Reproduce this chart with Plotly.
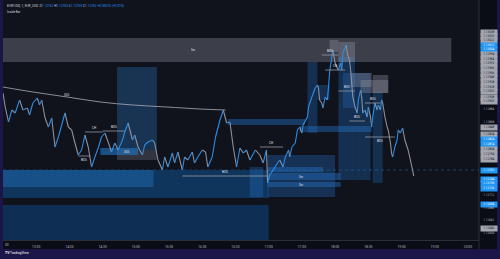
import pandas as pd
import plotly.graph_objects as go

BASE = pd.Timestamp("2024-03-14 13:00")

# ---- price path (minutes after 13:00, close price) ----
path_min = [0,2,5,8,11,15,18,22,24,27,31,33,35,38,41,44,47,50,53,56,
            59,62,65,68,71,74,77,80,83,86,89,92,95,98,101,104,108,110,113,117,
            119,122,126,128,131,135,137,140,144,146,149,153,155,158,162,164,167,171,173,176,
            180,183,185,189,192,196,199,202,205,208,211,214,217,220,223,228,232,235,238,239,
            241,244,248,250,253,255,258,259,261,264,266,268,270,271,275,276,279,282,284,285,
            286,288,289,291,293,294,295,297,298,300,302,303,305,306,307,310,311,313,314,315,
            316,318,320,321,323,324,325,327,329,330,332,333,334,336,338,339,341,342,343,345,
            347,348,350,351,352,354,356,357,359,361,363,366,368,370,371]
path_px = [1.12916,1.12888,1.12858,1.12882,1.12876,1.12902,1.12882,1.12886,1.12872,1.12896,
           1.12906,1.12892,1.12902,1.12866,1.12848,1.12866,1.12808,1.12828,1.12852,1.12876,
           1.12848,1.12842,1.12816,1.12792,1.12802,1.12832,1.12808,1.12768,1.12788,1.12806,
           1.12828,1.12836,1.12818,1.12798,1.12816,1.12802,1.12822,1.12838,1.12856,1.12822,
           1.12832,1.12808,1.12792,1.12812,1.12818,1.12822,1.12816,1.12782,1.12762,1.12788,
           1.12768,1.12796,1.12776,1.12798,1.12762,1.12788,1.12782,1.12798,1.12776,1.12788,
           1.12802,1.12798,1.12768,1.12788,1.12828,1.12862,1.12882,1.12856,1.12858,1.12808,
           1.12768,1.12806,1.12796,1.12802,1.12782,1.12802,1.12792,1.12776,1.12802,1.12736,
           1.12752,1.12762,1.12776,1.12782,1.12768,1.12788,1.12802,1.12788,1.12808,1.12816,
           1.12842,1.12848,1.12836,1.12852,1.12868,1.12888,1.12908,1.12926,1.12932,1.12926,
           1.12902,1.12896,1.12886,1.12908,1.12902,1.12926,1.12956,1.12988,1.13002,1.12976,
           1.12966,1.12962,1.12976,1.12962,1.12996,1.13012,1.12996,1.12982,1.12962,1.12936,
           1.12908,1.12888,1.12876,1.12902,1.12922,1.12908,1.12876,1.12882,1.12868,1.12888,
           1.12868,1.12848,1.12868,1.12896,1.12882,1.12892,1.12882,1.12902,1.12896,1.12868,
           1.12848,1.12842,1.12816,1.12796,1.12788,1.12808,1.12822,1.12842,1.12836,1.12846,
           1.12822,1.12802,1.12782,1.12762,1.12750]

# ---- liquidity arc ----
arc_min = [0, 27, 58, 88, 117, 148, 178, 201]
arc_px = [1.12928, 1.12918, 1.12908, 1.12898, 1.12892, 1.12888, 1.12884, 1.12882]

# ---- zones: start min, end min, top, bottom, kind ----
zone_t0 = [0, 103, 0, 0, 0, 103, 88, 203, 268, 275, 284, 303, 307, 318, 334,
           303, 295, 314, 323, 334, 239, 223, 239, 239, 239]
zone_t1 = [405, 139, 240, 136, 240, 139, 122, 273, 333, 284, 295, 318, 318, 332, 343,
           318, 303, 333, 348, 348, 300, 235, 289, 305, 305]
zone_top = [1.13026, 1.12968, 1.12762, 1.12762, 1.12692, 1.12802, 1.12806, 1.12864, 1.12850,
            1.12978, 1.12932, 1.12988, 1.12956, 1.12956, 1.12918,
            1.13018, 1.13022, 1.12956, 1.12942, 1.12952, 1.12792, 1.12768, 1.12768, 1.12756, 1.12738]
zone_bot = [1.12978, 1.12786, 1.12706, 1.12728, 1.12590, 1.12782, 1.12792, 1.12852, 1.12838,
            1.12836, 1.12902, 1.12742, 1.12886, 1.12742, 1.12736,
            1.12978, 1.12998, 1.12928, 1.12916, 1.12916, 1.12708, 1.12708, 1.12758, 1.12742, 1.12728]
zone_kind = ["sw", "lb", "d2", "d1", "d3", "dg", "bl", "hb", "hb", "cb", "cb", "cb", "cb", "cb", "cb",
             "gb", "gb", "gb", "gb", "gb", "mb", "mb", "hb", "hb", "hb"]

# ---- structure lines ----
st_t0 = [74, 90, 68, 162, 232, 288, 291, 303, 313, 327, 327]
st_t1 = [90, 110, 79, 239, 253, 303, 309, 318, 327, 341, 354]
st_px = [1.12838, 1.12840, 1.12790, 1.12750, 1.12808, 1.12992, 1.12962, 1.12920, 1.12860, 1.12896, 1.12828]
st_txt = ["CH", "BOS", "BOS", "BOS", "CH", "BOS", "CH", "BOS", "BOS", "BOS", "BOS"]
st_above = [True, True, False, True, True, True, True, True, True, True, False]

# ---- other labels ----
lbl_min = [172, 58, 112, 270, 270]
lbl_px = [1.13002, 1.12912, 1.12799, 1.12749, 1.12733]
lbl_txt = ["Sw", "SSS", "SSS", "Sw", "Sw"]

# ---- price scale labels ----
scale_px = [1.13038, 1.13030, 1.13022, 1.13012, 1.13004, 1.12994, 1.12984, 1.12976, 1.12966,
            1.12956, 1.12948, 1.12938, 1.12928, 1.12920, 1.12908, 1.12900, 1.12884, 1.12858,
            1.12848, 1.12834, 1.12824, 1.12814, 1.12804, 1.12794, 1.12784, 1.12762, 1.12744,
            1.12736, 1.12726, 1.12712, 1.12694, 1.12686, 1.12662, 1.12646, 1.12636]
scale_kind = ["g", "g", "g", "b", "b", "g", "g", "g", "g", "g", "g", "g", "g", "g", "g", "g", "t", "t",
              "g", "g", "b", "b", "g", "g", "g", "b", "b", "b", "b", "t", "b", "t", "t", "g", "t"]

time_ticks = list(range(30, 421, 30))
time_text = ["13:30", "14:00", "14:30", "15:00", "15:30", "16:00", "16:30", "17:00",
             "17:30", "18:00", "18:30", "19:00", "19:30", "20:00"]

current_px = 1.12762
y_range = [1.12622, 1.13102]
x_range_min = [0, 430]


def T(m):
    return BASE + pd.Timedelta(minutes=m)


FONT = "Roboto"
ZCOL = {
    "sw": "#3c3e4a", "lb": "rgba(38,98,160,0.42)", "d1": "#175087", "d2": "#0f355c",
    "d3": "#0e2f53", "dg": "rgba(52,54,64,0.95)", "bl": "rgba(33,120,200,0.6)",
    "hb": "rgba(33,110,190,0.45)", "cb": "rgba(33,110,190,0.32)",
    "gb": "rgba(150,152,165,0.35)", "mb": "rgba(33,110,190,0.35)",
}

fig = go.Figure()

shapes = []
# chart frame backgrounds (paper coords)
shapes.append(dict(type="rect", xref="paper", yref="paper", x0=0, x1=1.0378, y0=-0.0375, y1=1,
                   fillcolor="#0b0d16", line_width=0, layer="below"))
shapes.append(dict(type="rect", xref="paper", yref="paper", x0=0, x1=1, y0=0, y1=1,
                   fillcolor="#10121c", line_width=0, layer="below"))
for t0, t1, top, bot, k in zip(zone_t0, zone_t1, zone_top, zone_bot, zone_kind):
    shapes.append(dict(type="rect", xref="x", yref="y", x0=T(t0), x1=T(t1), y0=bot, y1=top,
                       fillcolor=ZCOL[k], line_width=0, layer="below"))
# current price line
shapes.append(dict(type="line", xref="paper", yref="y", x0=0, x1=1, y0=current_px, y1=current_px,
                   line=dict(color="rgba(60,120,190,0.55)", width=0.8, dash="dot"), layer="below"))
# separators
shapes.append(dict(type="line", xref="paper", yref="paper", x0=1, x1=1, y0=-0.0375, y1=1,
                   line=dict(color="#2a2e39", width=1)))

annotations = []
for t0, t1, p, txt, ab in zip(st_t0, st_t1, st_px, st_txt, st_above):
    shapes.append(dict(type="line", xref="x", yref="y", x0=T(t0), x1=T(t1), y0=p, y1=p,
                       line=dict(color="#9598a1", width=0.8)))
    annotations.append(dict(x=T((t0 + t1) / 2), y=p, xref="x", yref="y", text=txt, showarrow=False,
                            yanchor="bottom" if ab else "top", font=dict(size=3, color="#e0e3eb", family=FONT)))
for m, p, txt in zip(lbl_min, lbl_px, lbl_txt):
    annotations.append(dict(x=T(m), y=p, xref="x", yref="y", text=txt, showarrow=False,
                            font=dict(size=3, color="#e0e3eb", family=FONT)))

# arc
fig.add_trace(go.Scatter(x=[T(m) for m in arc_min], y=arc_px, mode="lines",
                         line=dict(color="#a9adb8", width=0.8, shape="spline"), hoverinfo="skip"))

# price path split into up / down segments
ux, uy, dx, dy = [], [], [], []
for i in range(1, len(path_min)):
    seg_x = [T(path_min[i - 1]), T(path_min[i]), None]
    seg_y = [path_px[i - 1], path_px[i], None]
    if path_px[i] >= path_px[i - 1]:
        ux += seg_x; uy += seg_y
    else:
        dx += seg_x; dy += seg_y
fig.add_trace(go.Scatter(x=dx, y=dy, mode="lines", line=dict(color="#8d919c", width=1.1),
                         connectgaps=False, hoverinfo="skip"))
fig.add_trace(go.Scatter(x=ux, y=uy, mode="lines", line=dict(color="#2a8ee6", width=1.1),
                         connectgaps=False, hoverinfo="skip"))

# price scale labels
SC = {"g": ("#a3a6af", "#131722"), "b": ("#2196f3", "#ffffff"), "t": ("rgba(0,0,0,0)", "#b2b5be")}
for p, k in zip(scale_px, scale_kind):
    bg, fc = SC[k]
    annotations.append(dict(x=1.002, y=p, xref="paper", yref="y", xanchor="left", yanchor="middle",
                            text=f"{p:.5f}", showarrow=False, width=15, align="center",
                            bgcolor=bg, borderpad=0.4,
                            font=dict(size=3, color=fc, family=FONT)))

# legend text
hdr = ("EUR/USD, 1, EUR_USD  O<span style='color:#2196f3'>1.12762</span> "
       "H<span style='color:#2196f3'>1.12762</span> L<span style='color:#2196f3'>1.12760</span> "
       "C<span style='color:#2196f3'>1.12762</span> <span style='color:#2196f3'>+0.00010 (+0.01%)</span>")
annotations.append(dict(x=0.004, y=0.974, xref="paper", yref="paper", xanchor="left", yanchor="middle",
                        text=hdr, showarrow=False, font=dict(size=3.2, color="#d1d4dc", family=FONT)))
annotations.append(dict(x=0.004, y=0.952, xref="paper", yref="paper", xanchor="left", yanchor="middle",
                        text="Inside Bar", showarrow=False, font=dict(size=3, color="#d1d4dc", family=FONT)))
annotations.append(dict(x=0.0, y=-0.02, xref="paper", yref="paper", xanchor="left", yanchor="middle",
                        text="00", showarrow=False, font=dict(size=3.3, color="#b2b5be", family=FONT)))
annotations.append(dict(x=0.0, y=-0.055, xref="paper", yref="paper", xanchor="left", yanchor="middle",
                        text="<b>TV</b> TradingView", showarrow=False,
                        font=dict(size=3.4, color="#ffffff", family=FONT)))

fig.update_layout(
    width=500, height=259, margin=dict(l=3, r=21, t=0, b=19),
    paper_bgcolor="#1b1548", plot_bgcolor="rgba(0,0,0,0)", showlegend=False,
    shapes=shapes, annotations=annotations,
    xaxis=dict(type="date", range=[T(x_range_min[0]), T(x_range_min[1])],
               tickvals=[T(m) for m in time_ticks], ticktext=time_text,
               tickfont=dict(size=3.3, color="#b2b5be", family=FONT),
               showgrid=False, zeroline=False, showline=True, linecolor="#2a2e39", linewidth=1,
               ticks="", ticklabelstandoff=3, fixedrange=True),
    yaxis=dict(range=y_range, showticklabels=False, showgrid=False, zeroline=False, fixedrange=True),
)

fig.write_html("out.html")
